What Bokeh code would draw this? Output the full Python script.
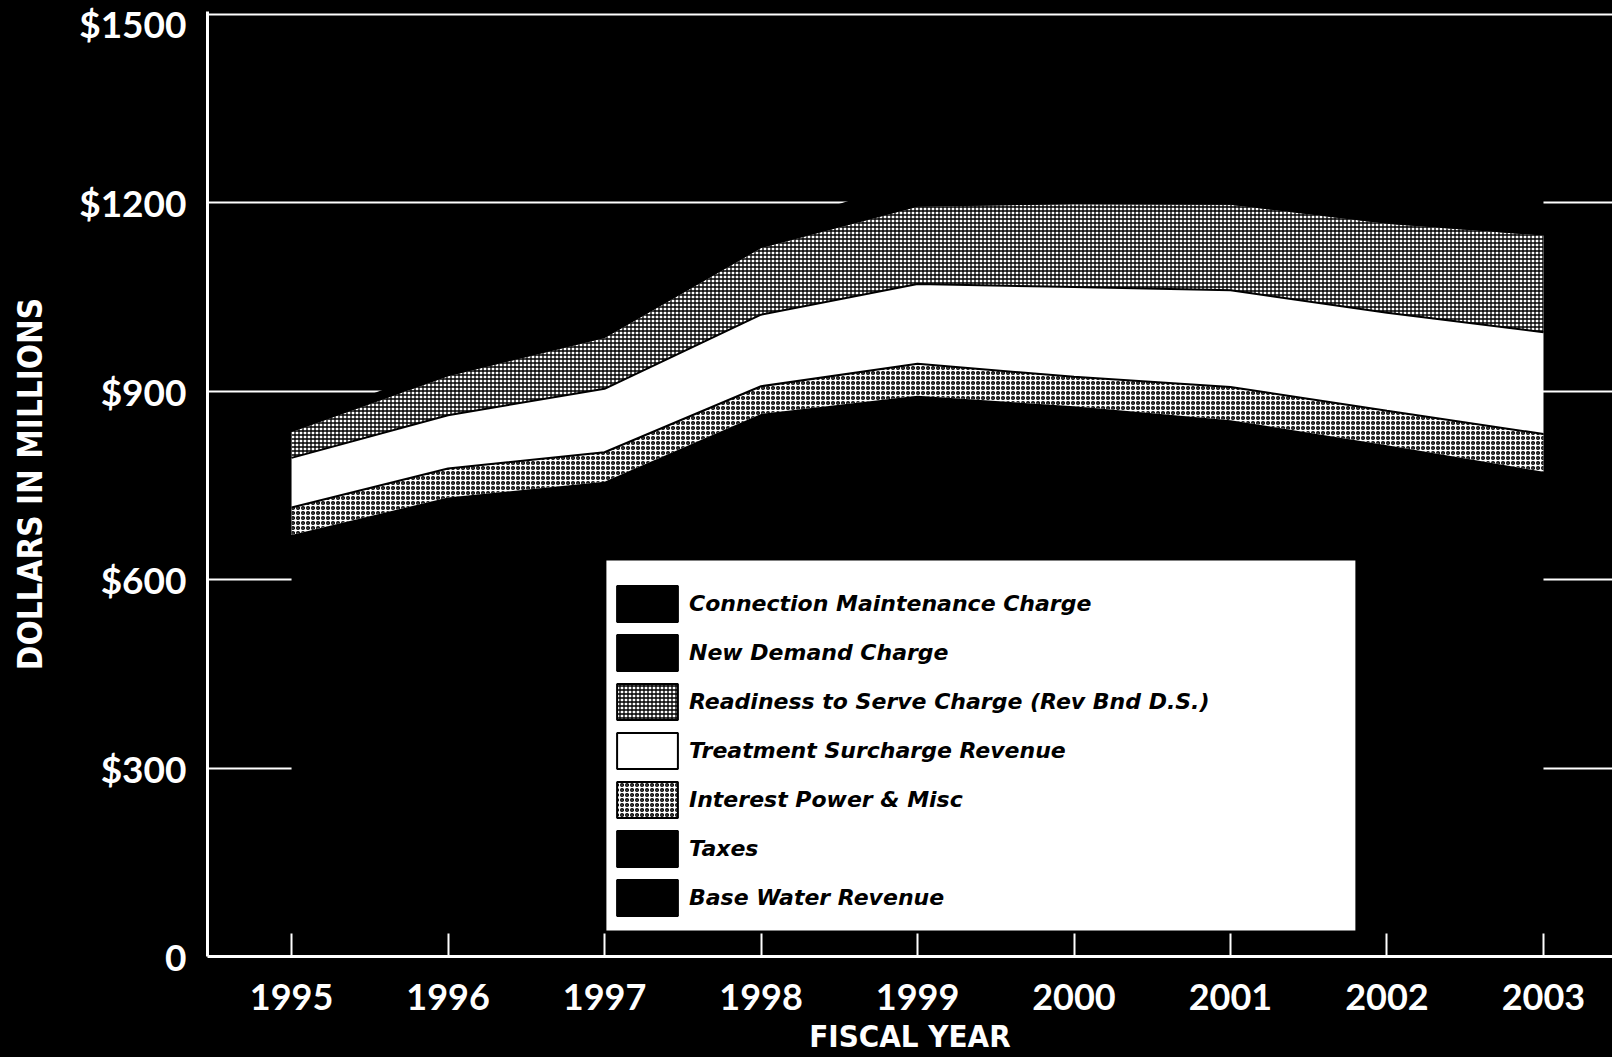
import numpy as np
from bokeh.plotting import figure
from bokeh.models import (Range1d, FixedTicker, Legend, LegendItem, BoxAnnotation,
                          ColumnDataSource)
from bokeh.embed import file_html
from bokeh.resources import INLINE

# ---------------- data (millions of dollars) ----------------
years = [1995, 1996, 1997, 1998, 1999, 2000, 2001, 2002, 2003]
year_labels = ["1995", "1996", "1997", "1998", "1999", "2000", "2001", "2002", "2003"]
base_water = [626, 683, 706, 809, 835, 816, 792, 751, 708]
taxes = [45, 48, 50, 55, 58, 60, 62, 63, 64]
interest_power_misc = [44, 46, 47, 44, 51, 47, 53, 55, 60]
treatment_surcharge = [79, 85, 101, 114, 127, 143, 154, 156, 162]
readiness_to_serve = [41, 62, 81, 106, 123, 132, 136, 142, 154]
new_demand = [5, 8, 11, 14, 22, 26, 30, 33, 36]
connection_maint = [7, 10, 13, 16, 23, 26, 28, 29, 30]

y_ticks = [0, 300, 600, 900, 1200, 1500]
y_tick_labels = ["0", "$300", "$600", "$900", "$1200", "$1500"]

series = [
    ("Base Water Revenue", base_water),
    ("Taxes", taxes),
    ("Interest Power & Misc", interest_power_misc),
    ("Treatment Surcharge Revenue", treatment_surcharge),
    ("Readiness to Serve Charge (Rev Bnd D.S.)", readiness_to_serve),
    ("New Demand Charge", new_demand),
    ("Connection Maintenance Charge", connection_maint),
]

styles = {
    "Base Water Revenue": dict(fill_color="black"),
    "Taxes": dict(fill_color="black"),
    "Interest Power & Misc": dict(fill_color="white", hatch_pattern="o", hatch_color="black",
                                  hatch_scale=5, hatch_weight=1.5),
    "Treatment Surcharge Revenue": dict(fill_color="white"),
    "Readiness to Serve Charge (Rev Bnd D.S.)": dict(fill_color="white", hatch_pattern="+",
                                                     hatch_color="black", hatch_scale=4,
                                                     hatch_weight=1.3),
    "New Demand Charge": dict(fill_color="black"),
    "Connection Maintenance Charge": dict(fill_color="black"),
}

TICK_FONT = "Lato"
LEGEND_FONT = "DejaVu Sans"
COND_FONT = "'DejaVu Sans Condensed', 'Liberation Sans Narrow', sans-serif"

X_START, X_END = 1994.463, 2003.441
p = figure(width=1612, height=1057, output_backend="svg", toolbar_location=None,
           x_range=Range1d(X_START, X_END), y_range=Range1d(0, 1504.78),
           min_border_left=207, min_border_right=0, min_border_top=11, min_border_bottom=101,
           background_fill_color="black", border_fill_color="black", outline_line_color=None)

# ---- grid ----
p.xgrid.visible = False
p.ygrid.ticker = FixedTicker(ticks=y_ticks[1:])
p.ygrid.grid_line_color = "white"
p.ygrid.grid_line_width = 2

# ---- axes ----
p.yaxis.ticker = FixedTicker(ticks=y_ticks)
p.yaxis.major_label_overrides = {t: l for t, l in zip(y_ticks, y_tick_labels)}
p.yaxis.major_tick_line_color = None
p.yaxis.minor_tick_line_color = None
p.yaxis.axis_line_color = "white"
p.yaxis.axis_line_width = 3
p.yaxis.major_label_text_color = "white"
p.yaxis.major_label_text_font = TICK_FONT
p.yaxis.major_label_text_font_style = "bold"
p.yaxis.major_label_text_font_size = "37px"
p.yaxis.major_label_standoff = 15
p.yaxis.axis_label = "DOLLARS IN MILLIONS"
p.yaxis.axis_label_text_color = "white"
p.yaxis.axis_label_text_font = COND_FONT
p.yaxis.axis_label_text_font_style = "bold"
p.yaxis.axis_label_text_font_size = "33px"
p.yaxis.axis_label_standoff = 26

p.xaxis.ticker = FixedTicker(ticks=years)
p.xaxis.major_label_overrides = {y: l for y, l in zip(years, year_labels)}
p.xaxis.major_tick_in = 23
p.xaxis.major_tick_out = 0
p.xaxis.major_tick_line_color = "white"
p.xaxis.major_tick_line_width = 2
p.xaxis.minor_tick_line_color = None
p.xaxis.axis_line_color = "white"
p.xaxis.axis_line_width = 3
p.xaxis.major_label_text_color = "white"
p.xaxis.major_label_text_font = TICK_FONT
p.xaxis.major_label_text_font_style = "bold"
p.xaxis.major_label_text_font_size = "36px"
p.xaxis.major_label_standoff = 27
p.xaxis.axis_label = "FISCAL YEAR"
p.xaxis.axis_label_text_color = "white"
p.xaxis.axis_label_text_font = COND_FONT
p.xaxis.axis_label_text_font_style = "bold"
p.xaxis.axis_label_text_font_size = "31px"
p.xaxis.axis_label_standoff = 5

# ---- stacked areas ----
x = np.array(years, dtype=float)
bottom = np.zeros(len(years))
boundaries = {}
for name, vals in series:
    top = bottom + np.array(vals, dtype=float)
    src = ColumnDataSource(dict(x=x, y1=bottom.copy(), y2=top.copy()))
    p.varea(x="x", y1="y1", y2="y2", source=src, **styles[name])
    boundaries[name] = top.copy()
    bottom = top

# seams between the black layers (hide antialiasing gaps)
p.line(x, boundaries["Base Water Revenue"], line_color="black", line_width=2)
p.line(x, boundaries["New Demand Charge"], line_color="black", line_width=2)
# black separating lines between patterned layers
p.line(x, boundaries["Interest Power & Misc"], line_color="black", line_width=2)
p.line(x, boundaries["Treatment Surcharge Revenue"], line_color="black", line_width=2)

# ---- legend box ----
box = BoxAnnotation(left=1997.012, right=2001.798, bottom=41.4, top=630.6,
                    fill_color="white", fill_alpha=1.0, line_color=None)
p.add_layout(box)

items = []
for name, vals in reversed(series):
    st = dict(styles[name])
    proxy = ColumnDataSource(dict(left=[np.nan], right=[np.nan], top=[np.nan], bottom=[np.nan]))
    r = p.quad(left="left", right="right", top="top", bottom="bottom", source=proxy,
               line_color="black", line_width=2, **st)
    items.append(LegendItem(label=name, renderers=[r]))

legend = Legend(items=items, location=(402, 36), orientation="vertical",
                glyph_width=76, glyph_height=45, label_standoff=4, spacing=4,
                padding=0, margin=0, background_fill_alpha=0, border_line_color=None,
                label_text_font=LEGEND_FONT, label_text_font_style="bold italic",
                label_text_font_size="22px", label_text_color="black",
                label_height=36)
p.add_layout(legend, "center")

TEMPLATE = """
{% block postamble %}
<style>html, body { background: #000; margin: 0; padding: 0; overflow: hidden; }</style>
{% endblock %}
"""
try:
    html = file_html(p, INLINE, template=TEMPLATE)
except Exception:
    html = file_html(p, INLINE)
open("out.html", "w").write(html)
